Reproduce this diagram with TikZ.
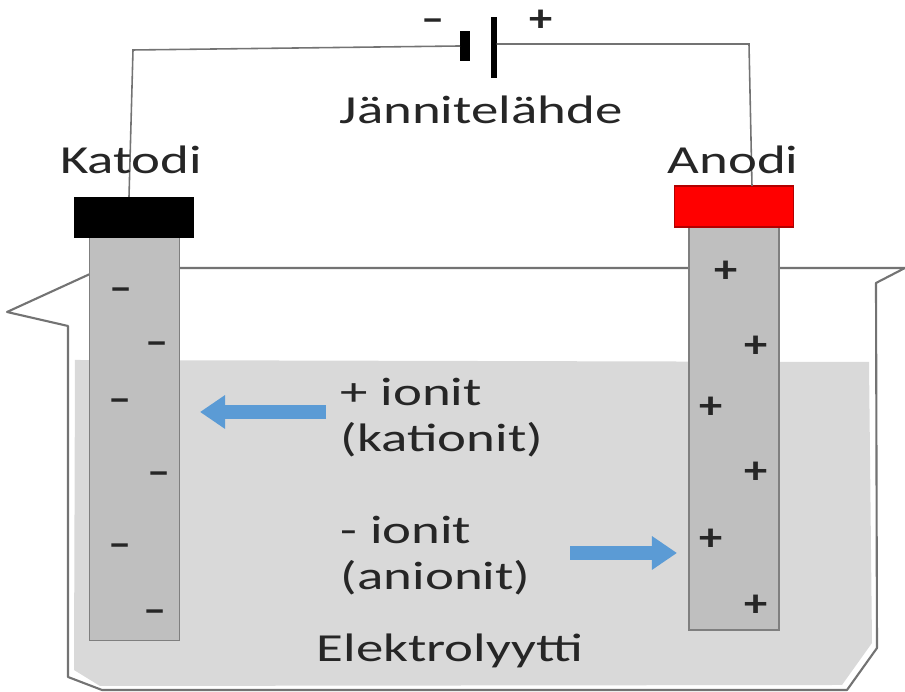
\documentclass[tikz,border=0pt]{standalone}
\usepackage{fontspec}
\usepackage{xcolor}
\setmainfont{Carlito}
\usetikzlibrary{arrows.meta}
\definecolor{liuos}{HTML}{D9D9D9}
\definecolor{sauva}{HTML}{BFBFBF}
\definecolor{reuna}{HTML}{7F7F7F}
\definecolor{nuoli}{HTML}{5B9BD5}
\tikzset{
    teksti/.style={inner sep=0pt,text=black!85,font=\fontsize{11.3}{13}\selectfont,xscale=1.38,transform shape},
    vasen/.style={teksti,anchor=west},
    varaus/.style={inner sep=0pt,text=black!85,font=\bfseries\fontsize{11}{12}\selectfont,xscale=1.2,transform shape},
    elektrodi/.style={draw=reuna,fill=sauva,line width=0.5pt,inner sep=0pt,outer sep=0pt,minimum width=0.9cm,minimum height=4.03cm},
    kansi/.style={inner sep=0pt,outer sep=0pt,minimum width=1.19cm,minimum height=0.41cm},
    johto/.style={draw=black!55,line width=0.45pt},
    levy/.style={fill=black,inner sep=0pt,outer sep=0pt},
    virta/.style={draw=nuoli,line width=0.14cm,-{Triangle[length=0.25cm,width=0.32cm]}}
}
\begin{document}
\begin{tikzpicture}[x=0.01cm,y=-0.01cm]
    \useasboundingbox (0,0) rectangle (905,692);

    \fill[liuos] (75,360)--(869,362)--(872,643)--(842,685)--(100,686)--(74,670)--cycle;
    \draw[johto,line width=0.6pt,line join=round] (90,274)--(7,312)--(68,326)--(68,677)--(102,690)--(847,690)--(877,648)--(876,283)--(905,268)--(90,268);

    \node[elektrodi] (katodi) at (134.5,439) {};
    \node[elektrodi] (anodi) at (734,428.5) {};
    \node[kansi,fill=black] (katodikansi) at (134,217.5) {};
    \node[kansi,fill=red,draw=black!30!red,line width=0.4pt] (anodikansi) at (734,206.5) {};

    \node[levy,minimum width=0.1cm,minimum height=0.3cm] (miinusnapa) at (465,46) {};
    \node[levy,minimum width=0.05cm,minimum height=0.61cm] (plusnapa) at (494,47.5) {};
    \coordinate (katodijohto) at (129,197);
    \coordinate (anodijohto) at (752,186);
    \draw[johto] (katodijohto)--(133,50)--(miinusnapa.west);
    \draw[johto] (plusnapa.east |- 0,44)--(749,44)--(anodijohto);

    \node[varaus] (miinus) at (433,25) {--};
    \node[varaus] (plus) at (541,21) {+};
    \node[teksti] (lahde) at (481,110) {Jännitelähde};
    \node[teksti] (katodinimi) at (131,160) {Katodi};
    \node[teksti] (anodinimi) at (733,160) {Anodi};

    \foreach \x/\y [count=\i] in {121/294,157/348,120/405,159/478,120/550,155/616}
        \node[varaus] (m\i) at (\x,\y) {--};
    \foreach \x/\y [count=\i] in {726/272,756/347,711/408,756/473,711/540,756/606}
        \node[varaus] (p\i) at (\x,\y) {+};

    \node[vasen] (kationi) at (340,392) {+ ionit};
    \node[vasen] (kationit) at (340,440) {(kationit)};
    \node[vasen] (anioni) at (340,530) {- ionit};
    \node[vasen] (anionit) at (340,578) {(anionit)};
    \node[teksti] (liuosnimi) at (450,651) {Elektrolyytti};

    \coordinate (kalku) at (326,412);
    \coordinate (kloppu) at (200,412);
    \coordinate (aalku) at (570,553);
    \coordinate (aloppu) at (677,553);
    \draw[virta] (kalku)--(kloppu);
    \draw[virta] (aalku)--(aloppu);
\end{tikzpicture}
\end{document}
